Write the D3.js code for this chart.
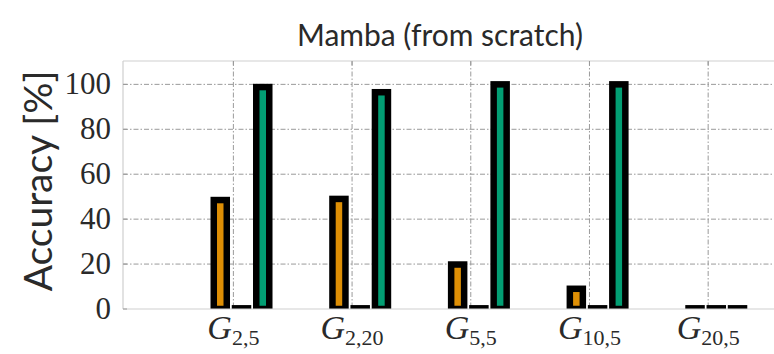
<!DOCTYPE html>
<html>
<head>
<meta charset="utf-8">
<script src="https://cdn.jsdelivr.net/npm/d3@7"></script>
<style>
  body { margin: 0; background: #fff; }
</style>
</head>
<body>
<div id="chart"></div>
<script>
// Categories (graph sizes) and the three visible series
var categories = [["2", "5"], ["2", "20"], ["5", "5"], ["10", "5"], ["20", "5"]];
var slots = ["empty", "orange", "black", "green"];
var orangeValues = [48.5, 49, 19.8, 9, 0.3];
var blackValues = [0.3, 0.3, 0.3, 0.3, 0.3];
var greenValues = [98.8, 96.5, 100, 100, 0.3];
var yTicks = [0, 20, 40, 60, 80, 100];

var series = [
  { key: "orange", values: orangeValues, color: "#DE8F05" },
  { key: "black", values: blackValues, color: "#222222" },
  { key: "green", values: greenValues, color: "#029E73" }
];

var svgWidth = 774;
var svgHeight = 354;

// plot area edges (right edge runs past the picture)
var plotLeft = 123, plotTop = 61, plotBottom = 309, plotRight = 777;

var svg = d3.select("#chart")
  .append("svg")
  .attr("width", svgWidth)
  .attr("height", svgHeight)
  .style("display", "block");

var xScale = d3.scaleLinear()
  .domain([-0.93, 4.58])
  .range([plotLeft, plotRight]);

var yScale = d3.scaleLinear()
  .domain([0, 110.4])
  .range([plotBottom, plotTop]);

// position of each series inside a group
var xSub = d3.scaleBand()
  .domain(slots)
  .range([-45, 40]);

svg.append("clipPath")
  .attr("id", "plotClip")
  .append("rect")
  .attr("x", plotLeft)
  .attr("y", plotTop)
  .attr("width", plotRight - plotLeft)
  .attr("height", plotBottom - plotTop);

// Grid lines
var grid = svg.append("g");
grid.selectAll(".hgrid")
  .data(yTicks.filter(d => d > 0))
  .enter()
  .append("line")
  .attr("x1", plotLeft)
  .attr("x2", plotRight)
  .attr("y1", d => yScale(d))
  .attr("y2", d => yScale(d))
  .attr("stroke", "#9a9a9a")
  .attr("stroke-width", 1)
  .attr("stroke-dasharray", "5,2,1.5,2");

grid.selectAll(".vgrid")
  .data(categories)
  .enter()
  .append("line")
  .attr("x1", (d, i) => xScale(i))
  .attr("x2", (d, i) => xScale(i))
  .attr("y1", plotTop)
  .attr("y2", plotBottom)
  .attr("stroke", "#9a9a9a")
  .attr("stroke-width", 1)
  .attr("stroke-dasharray", "5,2,1.5,2");

// Bars
var barGroup = svg.append("g").attr("clip-path", "url(#plotClip)");
var barWidth = 13;
series.forEach(function(s) {
  barGroup.selectAll(".bar-" + s.key)
    .data(s.values)
    .enter()
    .append("rect")
    .attr("x", (d, i) => xScale(i) + xSub(s.key) + (xSub.bandwidth() - barWidth) / 2)
    .attr("y", d => yScale(d))
    .attr("width", barWidth)
    .attr("height", d => plotBottom - yScale(d))
    .attr("fill", s.color)
    .attr("stroke", "#000")
    .attr("stroke-width", 6.5);
});

// Frame
var frameColor = "#cfcfcf";
svg.append("line").attr("x1", plotLeft).attr("x2", plotRight).attr("y1", plotTop).attr("y2", plotTop)
  .attr("stroke", frameColor).attr("stroke-width", 1.2);
svg.append("line").attr("x1", plotLeft).attr("x2", plotRight).attr("y1", plotBottom).attr("y2", plotBottom)
  .attr("stroke", frameColor).attr("stroke-width", 1.2);
svg.append("line").attr("x1", plotLeft).attr("x2", plotLeft).attr("y1", plotTop).attr("y2", plotBottom)
  .attr("stroke", frameColor).attr("stroke-width", 1.2);

// inward tick marks on top and left spines
svg.selectAll(".ttick")
  .data(categories)
  .enter()
  .append("line")
  .attr("x1", (d, i) => xScale(i))
  .attr("x2", (d, i) => xScale(i))
  .attr("y1", plotTop)
  .attr("y2", plotTop + 4)
  .attr("stroke", "#999");

svg.selectAll(".ltick")
  .data(yTicks)
  .enter()
  .append("line")
  .attr("x1", plotLeft)
  .attr("x2", plotLeft + 4)
  .attr("y1", d => yScale(d))
  .attr("y2", d => yScale(d))
  .attr("stroke", "#999");

// Y tick labels
svg.selectAll(".ylabel")
  .data(yTicks)
  .enter()
  .append("text")
  .attr("x", 111)
  .attr("y", d => yScale(d) + 10)
  .attr("text-anchor", "end")
  .attr("font-family", "'Liberation Serif', 'DejaVu Serif', serif")
  .attr("font-size", 31)
  .attr("fill", "#2a2a2a")
  .text(d => d);

// X tick labels: italic G with subscript
var xLabels = svg.selectAll(".xlabel")
  .data(categories)
  .enter()
  .append("text")
  .attr("x", (d, i) => xScale(i))
  .attr("y", 339)
  .attr("text-anchor", "middle")
  .attr("font-family", "'Liberation Serif', 'DejaVu Serif', serif")
  .attr("fill", "#2a2a2a");
xLabels.append("tspan")
  .attr("font-style", "italic")
  .attr("font-size", 34)
  .text("G");
xLabels.append("tspan")
  .attr("font-size", 22)
  .attr("dy", 6)
  .text(d => d[0] + "," + d[1]);

// Y axis title
svg.append("text")
  .attr("transform", "translate(52, 181) rotate(-90)")
  .attr("text-anchor", "middle")
  .attr("font-family", "Lato, 'DejaVu Sans', sans-serif")
  .attr("font-size", 39)
  .attr("fill", "#2a2a2a")
  .text("Accuracy [%]");

// Chart title
svg.append("text")
  .attr("x", 440)
  .attr("y", 46)
  .attr("text-anchor", "middle")
  .attr("font-family", "Lato, 'DejaVu Sans', sans-serif")
  .attr("font-size", 30)
  .attr("fill", "#2a2a2a")
  .text("Mamba (from scratch)");
</script>
</body>
</html>
